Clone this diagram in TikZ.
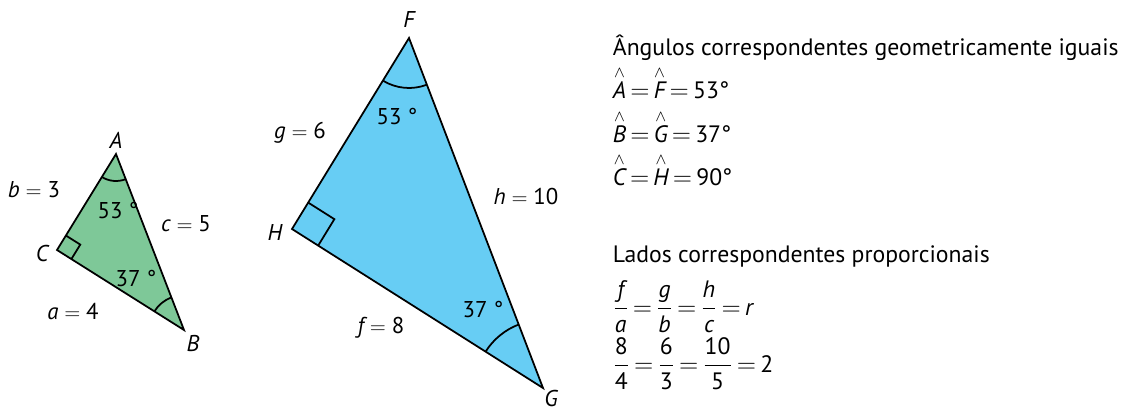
\documentclass[tikz,border=0pt]{standalone}
\usepackage{fontspec}
\setmainfont{PT Sans}
\usetikzlibrary{angles, calc}

\definecolor{verde}{RGB}{126,200,152}
\definecolor{azul}{RGB}{103,205,244}
\newcommand{\chapeu}[1]{\ensuremath{\stackrel{\wedge}{\mbox{\itshape #1}}}}
\newcommand{\fracao}[2]{\ensuremath{\displaystyle\frac{\mbox{#1}}{\mbox{#2}}}}
\newcommand{\igual}{\ensuremath{\,=\,}}
\newcommand{\lado}[2]{{\itshape #1}\ensuremath{\;=\;}#2}

\begin{document}
\begin{tikzpicture}[x=0.02cm, y=-0.02cm, line width=1pt,
    lbl/.style={font=\fontsize{13}{15}\selectfont, inner sep=0pt},
    txt/.style={font=\fontsize{13.5}{16}\selectfont, inner sep=0pt, anchor=base west}]

   \useasboundingbox (0,0) rectangle (1132,410);

   % triangulo ABC
   \coordinate (A) at (116,154);
   \coordinate (C) at (57,250);
   \coordinate (B) at (184,330);
   \filldraw[fill=verde] (A) -- (B) -- (C) -- cycle;
   \pic[draw, angle radius=0.54cm] {angle = C--A--B};
   \pic[draw, angle radius=0.7cm] {angle = A--B--C};
   \coordinate (c1) at ($(C)!0.34cm!(A)$);
   \coordinate (c2) at ($(C)!0.34cm!(B)$);
   \draw (c1) -- ($(c1)+(c2)-(C)$) -- (c2);

   \node[lbl] (lA) at (116,140) {\itshape A};
   \node[lbl] (lB) at (193,343) {\itshape B};
   \node[lbl] (lC) at (42,253) {\itshape C};
   \node[lbl] (lb) at (34,190) {\lado{b}{3}};
   \node[lbl] (lc) at (186,224) {\lado{c}{5}};
   \node[lbl] (la) at (73,312) {\lado{a}{4}};
   \node[lbl] (a53) at (118,210) {53 °};
   \node[lbl] (a37) at (136,278) {37 °};

   % triangulo FGH
   \coordinate (F) at (409,38);
   \coordinate (H) at (292,229);
   \coordinate (G) at (543,388);
   \filldraw[fill=azul] (F) -- (G) -- (H) -- cycle;
   \pic[draw, angle radius=1cm] {angle = H--F--G};
   \pic[draw, angle radius=1.36cm] {angle = F--G--H};
   \coordinate (h1) at ($(H)!0.62cm!(F)$);
   \coordinate (h2) at ($(H)!0.62cm!(G)$);
   \draw (h1) -- ($(h1)+(h2)-(H)$) -- (h2);

   \node[lbl] (lF) at (409,20) {\itshape F};
   \node[lbl] (lG) at (551,398) {\itshape G};
   \node[lbl] (lH) at (275,232) {\itshape H};
   \node[lbl] (lg) at (300,133) {\lado{g}{6}};
   \node[lbl] (lh) at (526,196) {\lado{h}{10}};
   \node[lbl] (lf) at (381,328) {\lado{f}{8}};
   \node[lbl] (f53) at (397,116) {53 °};
   \node[lbl] (g37) at (483,309) {37 °};

   % texto
   \node[txt] (t1) at (612,55) {Ângulos correspondentes geometricamente iguais};
   \node[txt] (t2) at (612,98) {\chapeu{A}\igual\chapeu{F}\igual 53°};
   \node[txt] (t3) at (612,142) {\chapeu{B}\igual\chapeu{G}\igual 37°};
   \node[txt] (t4) at (612,185) {\chapeu{C}\igual\chapeu{H}\igual 90°};
   \node[txt] (t5) at (612,262) {Lados correspondentes proporcionais};
   \node[txt] (t6) at (612,315) {\fracao{\itshape f}{\itshape a}\igual\fracao{\itshape g}{\itshape b}\igual\fracao{\itshape h}{\itshape c}\igual{\itshape r}};
   \node[txt] (t7) at (612,372) {\fracao{8}{4}\igual\fracao{6}{3}\igual\fracao{10}{5}\igual 2};

\end{tikzpicture}
\end{document}
